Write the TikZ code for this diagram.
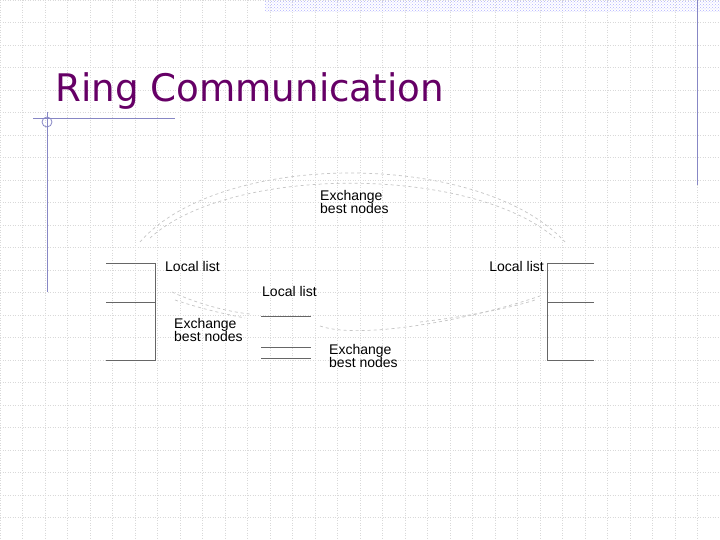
\documentclass[tikz,border=0pt]{standalone}
\usepackage{fontspec}
\setmainfont{Liberation Sans}
\newfontfamily\titlefont{DejaVu Sans}
\usetikzlibrary{patterns}
\definecolor{ttl}{HTML}{660066}
\begin{document}
\begin{tikzpicture}[x=1pt,y=-1pt,
  lbl/.style={font=\fontsize{14}{13.5}\selectfont, align=left, inner sep=0pt, anchor=north west},
  boxline/.style={draw=gray!80!black, line width=0.8pt},
  ring/.style={draw=gray!45, dashed, line width=0.7pt},
  frame/.style={draw=blue!35!gray!70, line width=0.8pt},
  gridline/.style={draw=gray!30, dotted, line width=0.5pt}]
\useasboundingbox (0,0) rectangle (720,540);
\fill[white] (0,0) rectangle (720,540);
\foreach \i in {0,...,32} {\draw[gridline] (\i*22.5,0) -- (\i*22.5,540);}
\foreach \j in {0,...,24} {\draw[gridline] (0,\j*22.5) -- (720,\j*22.5);}
\fill[pattern=crosshatch dots, pattern color=blue!30] (265,0) rectangle (720,12);
\draw[frame] (697,0) -- (697,185);
\draw[frame] (47,112) -- (47,292);
\draw[frame] (33,118) -- (175,118);
\draw[frame] (47,122) circle (5);
\node[anchor=base west, inner sep=0pt, text=ttl, font=\titlefont\fontsize{38}{38}\selectfont, xscale=0.98] (title) at (55,102) {Ring Communication};
% left box
\draw[boxline] (106,263) -- (155,263) -- (155,360) -- (106,360);
\draw[boxline] (106,302) -- (155,302);
% right box
\draw[boxline] (594,263) -- (547,263) -- (547,360) -- (594,360);
\draw[boxline] (547,302) -- (594,302);
% middle
\draw[boxline] (261,316) -- (311,316);
\draw[boxline] (261,347) -- (311,347);
\draw[boxline] (261,358) -- (311,358);
% rings
\draw[ring] (140,242) .. controls (220,150) and (480,150) .. (565,242);
\draw[ring] (150,238) .. controls (230,165) and (470,165) .. (555,238);
\draw[ring] (172,292) .. controls (200,305) and (230,312) .. (250,314);
\draw[ring] (175,300) .. controls (205,310) and (230,315) .. (245,318);
\draw[ring] (320,326) .. controls (360,340) and (470,320) .. (540,296);
\draw[ring] (420,322) .. controls (480,315) and (520,305) .. (535,300);
\node[lbl] (t1) at (320,190) {Exchange\\best nodes};
\node[lbl] (ll1) at (165,261) {Local list};
\node[lbl, anchor=north east] (ll2) at (544,261) {Local list};
\node[lbl] (ll3) at (262,286) {Local list};
\node[lbl] (t2) at (174,318) {Exchange\\best nodes};
\node[lbl] (t3) at (329,344) {Exchange\\best nodes};
\end{tikzpicture}
\end{document}
